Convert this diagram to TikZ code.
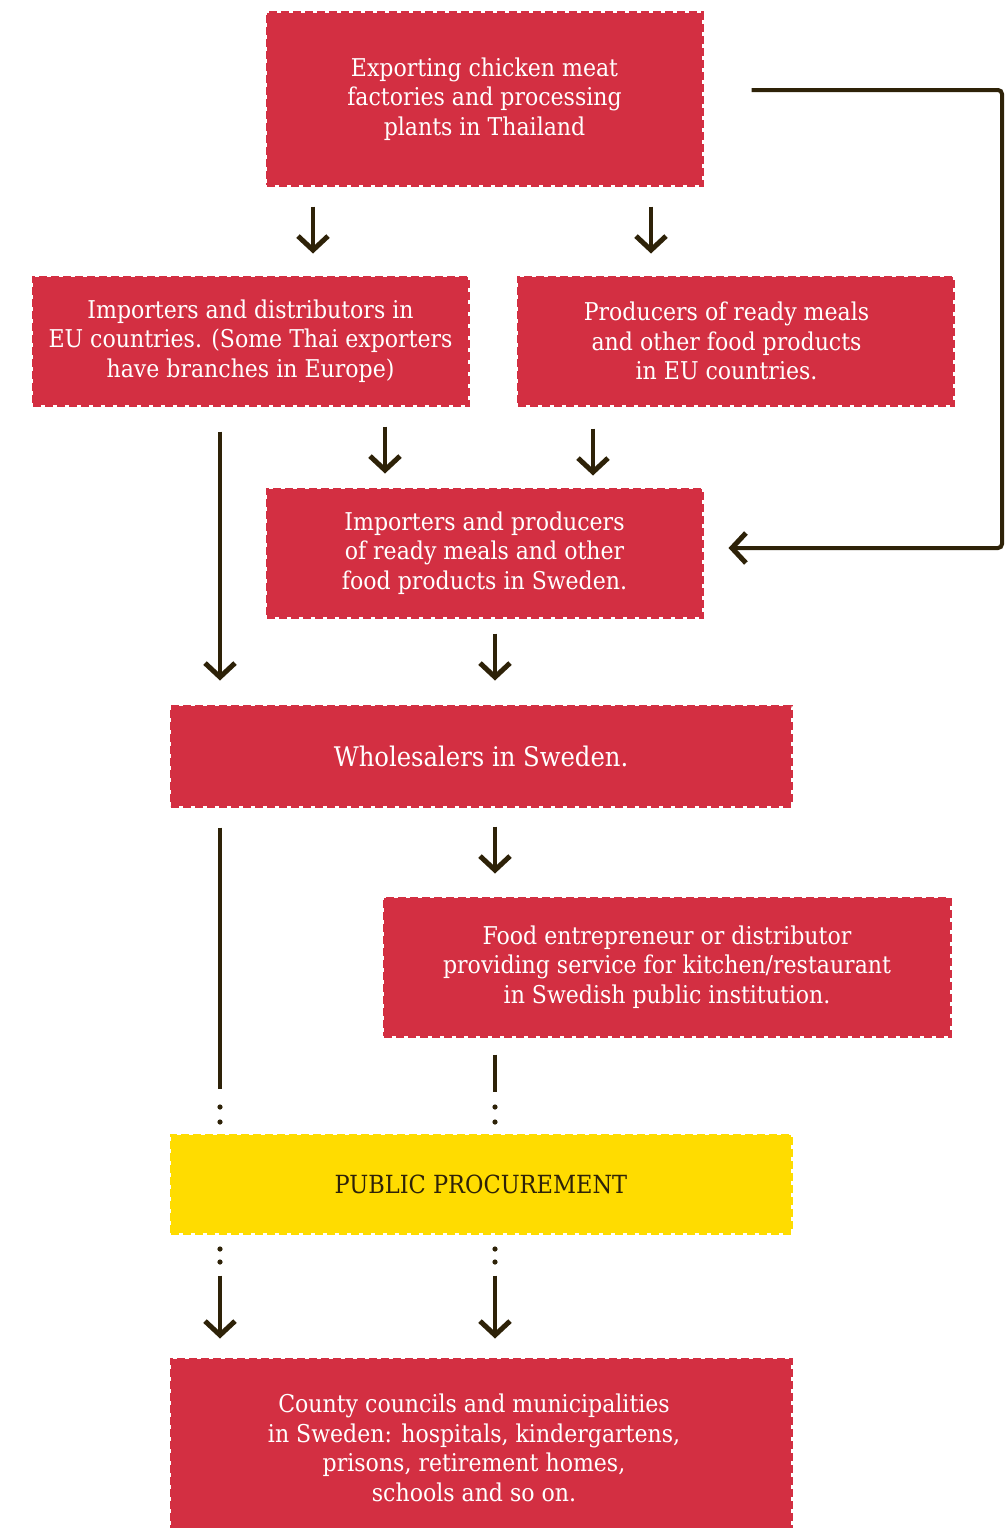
\documentclass[tikz,border=0pt]{standalone}
\usepackage{fontspec}
\setmainfont{DejaVu Serif Condensed}
\usetikzlibrary{arrows.meta}
\definecolor{boxred}{HTML}{D32F42}
\definecolor{boxyellow}{HTML}{FFDC00}
\definecolor{arrowbrown}{HTML}{2E2208}
\tikzset{
  boxtext/.style={text=white, align=center, font=\fontsize{24.5}{29.5}\selectfont},
  box/.style={fill=boxred, draw=boxred, dash pattern=on 8pt off 4pt, line width=3pt,
    boxtext, inner sep=0pt},
  yellowbox/.style={box, fill=boxyellow, draw=boxyellow, text=arrowbrown},
  arr/.style={draw=arrowbrown, line width=4pt, -{Straight Barb[length=14pt, width=30pt, line width=5pt]}},
  plainline/.style={draw=arrowbrown, line width=4pt},
  dot/.style={fill=arrowbrown}
}
\begin{document}
\begin{tikzpicture}[x=1pt, y=-1pt]
\clip (0,0) rectangle (1005,1528);
\fill[white] (0,0) rectangle (1005,1528);

\node[box, minimum width=435, minimum height=172] (top) at (484.5,99)
  {Exporting chicken meat\\factories and processing\\plants in Thailand};
\node[box, minimum width=435, minimum height=128] (left) at (250.5,341)
  {Importers and distributors in\\EU countries. (Some Thai exporters\\have branches in Europe)};
\node[box, minimum width=435, minimum height=128,
  label={[boxtext, xshift=-9pt, inner sep=0pt]center:{Producers of ready meals\\and other food products\\in EU countries.}}] (right) at (735.5,341) {};
\node[box, minimum width=435, minimum height=128] (mid) at (484.5,553)
  {Importers and producers\\of ready meals and other\\food products in Sweden.};
\node[box, minimum width=620, minimum height=100, font=\fontsize{27}{32}\selectfont] (whole) at (481,756)
  {Wholesalers in Sweden.};
\node[box, minimum width=566, minimum height=138] (food) at (667,967)
  {Food entrepreneur or distributor\\providing service for kitchen/restaurant\\in Swedish public institution.};
\node[yellowbox, minimum width=620, minimum height=98, font=\fontsize{25}{30}\selectfont] (public) at (481,1184)
  {PUBLIC PROCUREMENT};
\node[box, minimum width=620, minimum height=178,
  label={[boxtext, xshift=-7pt, inner sep=0pt]center:{County councils and municipalities\\in Sweden: hospitals, kindergartens,\\prisons, retirement homes,\\schools and so on.}}] (county) at (481,1448) {};

\coordinate (xa) at (313,0);
\coordinate (xb) at (651,0);
\coordinate (xc) at (220,0);
\coordinate (xd) at (385,0);
\coordinate (xe) at (593,0);
\coordinate (xf) at (495,0);

\draw[arr, shorten <=20pt, shorten >=22pt] (top.south -| xa) -- (left.north -| xa);
\draw[arr, shorten <=20pt, shorten >=22pt] (top.south -| xb) -- (right.north -| xb);
\draw[arr, shorten <=25pt, shorten >=24pt] (left.south -| xc) -- (whole.north -| xc);
\draw[arr, shorten <=20pt, shorten >=14pt] (left.south -| xd) -- (mid.north -| xd);
\draw[arr, shorten <=22pt, shorten >=12pt] (right.south -| xe) -- (mid.north -| xe);
\draw[arr, shorten <=15pt, shorten >=24pt] (mid.south -| xf) -- (whole.north -| xf);
\draw[arr, shorten <=19pt, shorten >=23pt] (whole.south -| xf) -- (food.north -| xf);

\coordinate (loopstart) at ([xshift=48pt,yshift=9pt]top.east);
\coordinate (loopend) at ([xshift=25pt,yshift=5pt]mid.east);
\draw[arr, rounded corners=4pt] (loopstart) -- (1002,90) -- (1002,548) -- (loopend);

% to public procurement, with dots
\draw[plainline, shorten <=20pt, shorten >=45pt] (whole.south -| xc) -- (public.north -| xc);
\draw[plainline, shorten <=17pt, shorten >=42pt] (food.south -| xf) -- (public.north -| xf);
\fill[dot] (220,1107) circle (2.6pt) (220,1122) circle (2.6pt);
\fill[dot] (495,1107) circle (2.6pt) (495,1122) circle (2.6pt);

% from public procurement to county
\fill[dot] (220,1249) circle (2.6pt) (220,1262) circle (2.6pt);
\fill[dot] (495,1249) circle (2.6pt) (495,1262) circle (2.6pt);
\draw[arr, shorten <=41pt, shorten >=19pt] (public.south -| xc) -- (county.north -| xc);
\draw[arr, shorten <=41pt, shorten >=19pt] (public.south -| xf) -- (county.north -| xf);
\end{tikzpicture}
\end{document}
